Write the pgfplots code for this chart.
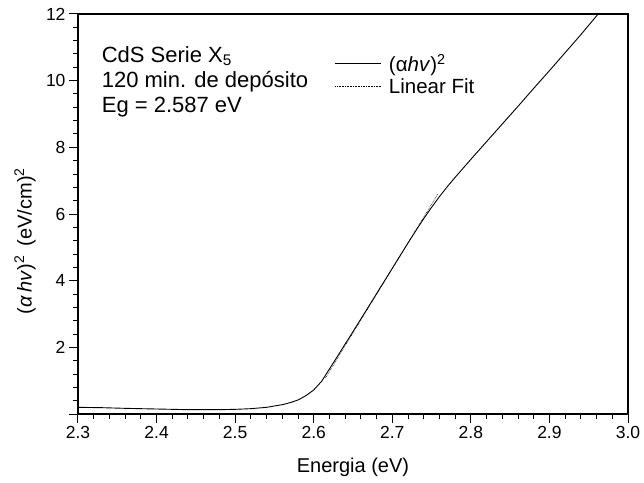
\documentclass[border=0pt]{standalone}
\usepackage{pgfplots}
\pgfplotsset{compat=1.18}
\usepackage{fontspec}
\setmainfont{Liberation Sans}
\begin{document}
\begin{tikzpicture}
\begin{axis}[
  name=ax,
  width=550pt, height=400pt, scale only axis,
  xmin=2.3, xmax=3.0, ymin=0, ymax=12,
  xtick={2.3,2.4,...,3.0},
  xticklabels={2.3,2.4,2.5,2.6,2.7,2.8,2.9,3.0},
  ytick={0,2,4,6,8,10,12},
  yticklabels={,2,4,6,8,10,12},
  minor x tick num=4,
  minor y tick num=4,
  tick align=outside,
  xtick pos=bottom, ytick pos=left,
  major tick length=9pt, minor tick length=5pt,
  tick style={black, line width=1pt},
  axis line style={line width=1.4pt},
  tick label style={font=\fontsize{17.5}{17.5}\selectfont},
  /pgf/number format/assume math mode=true,
  xlabel={Energia (eV)},
  ylabel={(\textit{α}\,\textit{hv})\textsuperscript{2}\, (eV/cm)\textsuperscript{2}},
  label style={font=\fontsize{20}{20}\selectfont},
  xlabel style={at={(axis description cs:0.5,0)}, anchor=center, yshift=-53pt},
  ylabel style={at={(axis description cs:-0.0964,0.4325)}, anchor=center},
  legend style={at={(rel axis cs:0.467,0.905)}, anchor=north west, draw=none, fill=none,
    font=\fontsize{20.5}{20.5}\selectfont, row sep=1pt, column sep=6pt, inner sep=0pt,
    nodes={inner sep=2pt}},
  legend cell align=left,
  legend image code/.code={\draw[#1] (0pt,0pt) -- (45pt,0pt);},
]
\addplot[black, line width=0.9pt] coordinates {
(2.30,0.20) (2.33,0.19) (2.36,0.17) (2.40,0.15) (2.44,0.13) (2.48,0.13)
(2.50,0.14) (2.52,0.16) (2.54,0.20) (2.56,0.28) (2.57,0.34) (2.58,0.42)
(2.59,0.55) (2.60,0.72) (2.61,0.98) (2.62,1.35) (2.63,1.72) (2.64,2.10)
(2.65,2.47) (2.66,2.85) (2.67,3.23) (2.68,3.61) (2.69,3.99) (2.70,4.37)
(2.71,4.75) (2.72,5.13) (2.73,5.50) (2.74,5.86) (2.75,6.20) (2.76,6.52)
(2.77,6.82) (2.78,7.10) (2.79,7.37) (2.80,7.64) (2.82,8.17) (2.84,8.70)
(2.86,9.23) (2.88,9.77) (2.90,10.30) (2.92,10.84) (2.94,11.38) (2.962,12.0)
};
\addlegendentry{(α\textit{hv})\textsuperscript{2}}
\addplot[black, densely dotted, line width=0.6pt] coordinates {
(2.615,1.08) (2.758,6.60)
};
\addlegendentry{Linear Fit}
\node[anchor=north west, align=left, font=\fontsize{22}{25}\selectfont, inner sep=0pt]
  at (rel axis cs:0.043,0.92)
  {CdS Serie X\textsubscript{5}\\120 min. de depósito\\Eg = 2.587 eV};
\end{axis}
\pgfresetboundingbox
\path ([xshift=-78pt,yshift=-68pt]ax.south west) rectangle ([xshift=16pt,yshift=14pt]ax.north east);
\end{tikzpicture}
\end{document}
